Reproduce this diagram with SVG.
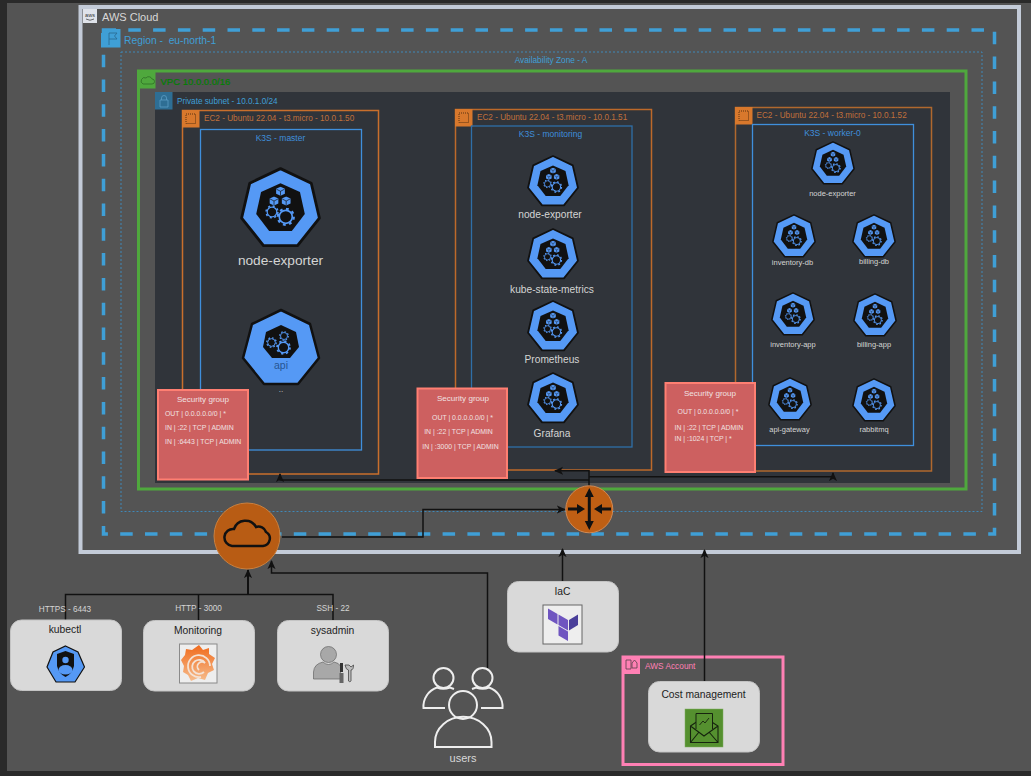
<svg xmlns="http://www.w3.org/2000/svg" width="1031" height="776" viewBox="0 0 1031 776">
<style>
text{font-family:"Liberation Sans",Arial,sans-serif}
.c{fill:none;stroke:#111;stroke-width:1.5}
.ec2{fill:none;stroke:#c96f2c;stroke-width:1.5}
.k3s{fill:none;stroke:#3f8fdc;stroke-width:1.3}
.ech{fill:#d8782c}
.ect{fill:#c0703a;font-size:8.2px}
.k3t{fill:#3f8fdc;font-size:8.5px;text-anchor:middle}
.sg{fill:#cd6060;stroke:#ff7f72;stroke-width:2}
.sgt{fill:#f0e0e0;font-size:8.1px;text-anchor:middle}
.sgl{fill:#f0e0e0;font-size:6.9px}
.sgm{fill:#f0e0e0;font-size:6.9px;text-anchor:middle}
.lbl{fill:#d4d4d4;text-anchor:middle}
.card{fill:#d9d9d9;stroke:#c4c4c4}
.cardt{fill:#222;font-size:10.3px;text-anchor:middle}
.port{fill:#d4d4d4;font-size:8.2px;text-anchor:middle}
.user{fill:none;stroke:#eeeeee;stroke-width:2}
</style>
<defs>
<linearGradient id="graf" x1="0" y1="0" x2="0" y2="1"><stop offset="0" stop-color="#f06a1c"/><stop offset="1" stop-color="#f6bc8c"/></linearGradient>
<marker id="ah" viewBox="0 0 10 10" refX="9" refY="5" markerWidth="9" markerHeight="9" markerUnits="userSpaceOnUse" orient="auto"><path d="M0,0.5 L10,5 L0,9.5 L2.5,5 z" fill="#111"/></marker>
<symbol id="cube" viewBox="0 0 10 10"><path d="M5,0.3 L9.5,2.5 V7.5 L5,9.7 L0.5,7.5 V2.5 z" fill="#5599f5"/><path d="M0.8,2.8 L5,5 L9.2,2.8 M5,5 V9.5" stroke="#111" stroke-width="0.7" fill="none"/></symbol>
<symbol id="gear" viewBox="0 0 20 20"><circle cx="10" cy="10" r="7" fill="none" stroke="#5599f5" stroke-width="1.8"/><circle cx="10" cy="10" r="8.6" fill="none" stroke="#5599f5" stroke-width="2.4" stroke-dasharray="3 3.75"/></symbol>
<symbol id="k8s" viewBox="0 0 100 100">
<path d="M50,2 L88,20 L98,63 L71,97 L29,97 L2,63 L12,20 z" fill="#5599f5" stroke="#111" stroke-width="3.5" stroke-linejoin="round"/>
<path d="M50,20 L74,31 L80,58 L64,79 L36,79 L20,58 L26,31 z" fill="#111"/>
<use href="#cube" x="44" y="24" width="12" height="12"/>
<use href="#cube" x="36" y="36" width="12" height="12"/>
<use href="#cube" x="51" y="36" width="12" height="12"/>
<use href="#gear" x="31" y="47" width="17" height="17"/>
<use href="#gear" x="45" y="50" width="23" height="23"/>
</symbol>
</defs>
<rect width="1031" height="776" fill="#2a2a2a"/>
<rect x="7" y="3" width="1024" height="768" fill="#545454"/>

<g id="aws-cloud">
<rect x="80.500" y="7" width="938.500" height="545" fill="#545454" stroke="#c3cbd8" stroke-width="4"/>
<rect x="83" y="9" width="14" height="14" fill="#dfe3ea"/>
<text x="90" y="17" font-size="5.500" fill="#333" text-anchor="middle">aws</text>
<path d="M86,19 Q90,21.500 94,19" fill="none" stroke="#333" stroke-width="0.700"/>
<text x="102" y="21" font-size="11" fill="#d8d8d8">AWS Cloud</text>
</g>
<g id="region">
<rect x="103.500" y="30" width="891" height="504" fill="none" stroke="#3f9fd6" stroke-width="3.500" stroke-dasharray="12.500 12.300"/>
<path d="M104,29 H120.500 V47.500 H101 V33 H104 z" fill="#3f9fd6"/>
<path d="M109,45 V33 H117 L114.500,36 L117,39 H109" fill="none" stroke="#2a6d96" stroke-width="0.900"/>
<text x="124" y="44" font-size="10.300" fill="#3f9fd6" xml:space="preserve">Region -  eu-north-1</text>
</g>
<g id="az">
<rect x="121" y="52" width="861" height="459.500" fill="none" stroke="#3f88b8" stroke-width="1" stroke-dasharray="2 2"/>
<text x="551" y="63" font-size="8.300" fill="#3f9fd6" text-anchor="middle">Availability Zone - A</text>
</g>
<g id="vpc">
<rect x="138.500" y="71" width="827.500" height="418" fill="#545454" stroke="#4fa83d" stroke-width="3"/>
<rect x="138" y="71" width="17.500" height="17.500" fill="#4fa83d"/>
<path d="M143,84 h9 a2.500,2.500 0 0 0 0,-5 a3.500,3.500 0 0 0 -6,-1 a3,3 0 0 0 -3,6 z" fill="none" stroke="#2f6f26" stroke-width="0.800"/>
<text x="160.500" y="85" font-size="9.500" fill="#008000" stroke="#008000" stroke-width="0.200">VPC 10.0.0.0/16</text>
</g>
<g id="subnet">
<rect x="155" y="92" width="795" height="391" fill="#30343a"/>
<rect x="155" y="92" width="17.500" height="17.500" fill="#2e6e94"/>
<path d="M160,100 h8 v7 h-8 z M161.500,100 v-2 a2.500,2.500 0 0 1 5,0 v2" fill="none" stroke="#5a9cc4" stroke-width="0.800"/>
<text x="177" y="104" font-size="8.200" fill="#3f9fd6">Private subnet - 10.0.1.0/24</text>
</g>

<g id="ec2-master">
<rect class="ec2" x="182.500" y="110.500" width="196" height="363.500"/>
<rect class="ech" x="182" y="110" width="17.500" height="17.500"/>
<rect x="186" y="114" width="9.500" height="9.500" fill="none" stroke="#5a3210" stroke-dasharray="1 1"/>
<text class="ect" x="204" y="121">EC2 - Ubuntu 22.04 - t3.micro - 10.0.1.50</text>
</g>
<g id="k3s-master">
<rect class="k3s" x="200.500" y="129.500" width="161" height="320.500"/>
<text class="k3t" x="280.500" y="141">K3S - master</text>
</g>
<g id="master-node-exporter">
<use href="#k8s" x="240" y="167" width="81" height="81"/>
<text class="lbl" x="280.500" y="265" font-size="13.700">node-exporter</text>
</g>
<g id="master-api">
<path d="M281,310 L310,324 L319,358 L298,384 L264,384 L243,358 L252,324 z" fill="#5599f5" stroke="#111" stroke-width="2.500" stroke-linejoin="round"/>
<path d="M281,325 L296,332 L299,347 L290,358 L272,358 L263,347 L266,332 z" fill="#111"/>
<use href="#gear" x="266" y="337" width="11" height="11"/>
<use href="#gear" x="279" y="331" width="10" height="10"/>
<use href="#gear" x="276" y="340" width="15" height="15"/>
<text x="281" y="369" font-size="10.500" fill="#265592" text-anchor="middle">api</text>
<text class="lbl" x="281" y="392" font-size="8">..</text>
</g>

<g id="ec2-monitoring">
<rect class="ec2" x="455.500" y="109.500" width="196" height="360.500" style="stroke:#bd692a"/>
<rect class="ech" x="455" y="109" width="17.500" height="17.500"/>
<rect x="459" y="113" width="9.500" height="9.500" fill="none" stroke="#5a3210" stroke-dasharray="1 1"/>
<text class="ect" x="477" y="120">EC2 - Ubuntu 22.04 - t3.micro - 10.0.1.51</text>
</g>
<g id="k3s-monitoring">
<rect class="k3s" x="471.500" y="126" width="160.500" height="321" style="stroke:#2f6fa8"/>
<text class="k3t" x="550.500" y="137">K3S - monitoring</text>
</g>
<g id="mon-node-exporter"><use href="#k8s" x="527" y="155" width="52" height="52"/><text class="lbl" x="550" y="218" font-size="10.200">node-exporter</text></g>
<g id="mon-ksm"><use href="#k8s" x="527" y="228" width="52" height="52"/><text class="lbl" x="552" y="293" font-size="10.200">kube-state-metrics</text></g>
<g id="mon-prometheus"><use href="#k8s" x="527" y="300" width="52" height="52"/><text class="lbl" x="552" y="363" font-size="10.200">Prometheus</text></g>
<g id="mon-grafana"><use href="#k8s" x="527" y="372" width="52" height="52"/><text class="lbl" x="552" y="437" font-size="10.200">Grafana</text></g>

<g id="ec2-worker">
<rect class="ec2" x="735.500" y="107.500" width="196" height="363.500" style="stroke:#b0682e"/>
<rect class="ech" x="735" y="107" width="17.500" height="17.500"/>
<rect x="739" y="111" width="9.500" height="9.500" fill="none" stroke="#5a3210" stroke-dasharray="1 1"/>
<text class="ect" x="756.500" y="118">EC2 - Ubuntu 22.04 - t3.micro - 10.0.1.52</text>
</g>
<g id="k3s-worker">
<rect class="k3s" x="752.500" y="124.500" width="161" height="321"/>
<text class="k3t" x="832.500" y="136">K3S - worker-0</text>
</g>
<g id="w-node-exporter"><use href="#k8s" x="811" y="141" width="44" height="44"/><text class="lbl" x="832.500" y="196" font-size="7.500">node-exporter</text></g>
<g id="w-inventory-db"><use href="#k8s" x="772" y="214" width="44" height="44"/><text class="lbl" x="792.500" y="265" font-size="7.500">inventory-db</text></g>
<g id="w-billing-db"><use href="#k8s" x="852" y="214" width="44" height="44"/><text class="lbl" x="874" y="264" font-size="7.500">billing-db</text></g>
<g id="w-inventory-app"><use href="#k8s" x="771" y="292" width="44" height="44"/><text class="lbl" x="793" y="347" font-size="7.500">inventory-app</text></g>
<g id="w-billing-app"><use href="#k8s" x="853" y="293" width="44" height="44"/><text class="lbl" x="874" y="347" font-size="7.500">billing-app</text></g>
<g id="w-api-gateway"><use href="#k8s" x="768" y="377" width="44" height="44"/><text class="lbl" x="789.500" y="432" font-size="7.500">api-gateway</text></g>
<g id="w-rabbitmq"><use href="#k8s" x="852" y="378" width="44" height="44"/><text class="lbl" x="874" y="432" font-size="7.500">rabbitmq</text></g>

<g id="sg-master">
<rect class="sg" x="158" y="390" width="90" height="89.500"/>
<text class="sgt" x="203" y="402">Security group</text>
<text class="sgl" x="165" y="416">OUT | 0.0.0.0.0/0 | *</text>
<text class="sgl" x="165" y="430">IN | :22 | TCP | ADMIN</text>
<text class="sgl" x="165" y="444">IN | :6443 | TCP | ADMIN</text>
</g>
<g id="sg-monitoring">
<rect class="sg" x="417.500" y="388.500" width="89.500" height="89.500"/>
<text class="sgt" x="463" y="401">Security group</text>
<text class="sgm" x="462.500" y="420">OUT | 0.0.0.0.0/0 | *</text>
<text class="sgm" x="458.500" y="434">IN | :22 | TCP | ADMIN</text>
<text class="sgm" x="460.500" y="449">IN | :3000 | TCP | ADMIN</text>
</g>
<g id="sg-worker">
<rect class="sg" x="665.500" y="383" width="89.500" height="89"/>
<text class="sgt" x="710" y="395.500">Security group</text>
<text class="sgm" x="708" y="413.500">OUT | 0.0.0.0.0/0 | *</text>
<text class="sgl" x="674.500" y="429.500">IN | :22 | TCP | ADMIN</text>
<text class="sgl" x="674.500" y="440.500">IN | :1024 | TCP | *</text>
</g>

<g id="aws-account">
<rect x="623" y="657" width="160" height="107.500" fill="none" stroke="#ff80b4" stroke-width="3"/>
<rect x="622" y="656" width="18" height="18" fill="#ff80b4"/>
<path d="M626,660 h5 v9 h-5 z M632,668 h5 v-5 l-2.500,-3 l-2.500,3 z" fill="none" stroke="#55404a" stroke-width="0.800"/>
<text x="645" y="669" font-size="8.300" fill="#ff80b4">AWS Account</text>
</g>

<g id="connectors">
<path class="c" d="M282,537 H423 V509.500 H565" marker-end="url(#ah)"/>
<path class="c" d="M589,488 V470.700 H555" marker-end="url(#ah)"/>
<path class="c" d="M589,480 H280 V474" marker-end="url(#ah)"/>
<path class="c" d="M589,476.700 H833 V473" marker-end="url(#ah)"/>
<path class="c" d="M65.500,620 V594.500 H248"/>
<path class="c" d="M198.500,620 V594.500"/>
<path class="c" d="M333,620 V594.500 H248"/>
<path class="c" d="M248,594.500 V570" style="stroke-width:2" marker-end="url(#ah)"/>
<path class="c" d="M487.500,669 V573 H271.500 V561" marker-end="url(#ah)"/>
<path class="c" d="M562.500,581 V549" marker-end="url(#ah)"/>
<path class="c" d="M704.500,681 V550" marker-end="url(#ah)"/>
</g>

<g id="internet-gateway">
<circle cx="247" cy="536" r="33" fill="#b85c14" stroke="#c9803f" stroke-width="1"/>
<path d="M232,546 H263 A7.500,7.500 0 0 0 266,532 A8,8 0 0 0 256,527 A12,12 0 0 0 234,529 A8.500,8.500 0 0 0 232,546 z" fill="none" stroke="#111" stroke-width="2.500"/>
</g>
<g id="router">
<circle cx="589.300" cy="509.300" r="23.500" fill="#bf5f14" stroke="#d08a55" stroke-width="1"/>
<path d="M589.300,495 V523" stroke="#111" stroke-width="3"/>
<path d="M589.300,488 l-4.500,9 h9 z M589.300,530 l-4.500,-9 h9 z M585,509 l-8,-5 v10 z M594,509 l8,-5 v10 z" fill="#111"/>
<path d="M568,509 H578 M601,509 H611" stroke="#111" stroke-width="3"/>
</g>

<g id="kubectl">
<rect class="card" x="10.500" y="620" width="111" height="70.500" rx="11"/>
<text class="port" x="65" y="612">HTTPS - 6443</text>
<text class="cardt" x="65" y="633">kubectl</text>
<path d="M65.500,646 L78,652 L84.500,667 L75,682 L56,682 L47,667 L53,652 z" fill="#5599f5" stroke="#111" stroke-width="1.200"/>
<path d="M57,654 L65.500,651 L74,654 V666 Q72,674 65.500,677 Q59,674 57,666 z" fill="#111"/>
<circle cx="65.500" cy="660" r="3.200" fill="#5599f5"/>
<path d="M58.500,670 a7,5 0 0 1 14,0 a7,4.500 0 0 1 -14,0 z" fill="#5599f5"/>
</g>
<g id="monitoring">
<rect class="card" x="143.500" y="620.500" width="111" height="70.500" rx="11"/>
<text class="port" x="198.500" y="611">HTTP - 3000</text>
<text class="cardt" x="198" y="634">Monitoring</text>
<rect x="179.500" y="644" width="37.500" height="39" fill="#eeeeee" stroke="#8a8a8a"/>
<path d="M199,645 L203,650 L209,648 L209,654 L215,658 L212,664 L214,670 L208,673 L205,680 L198,678 L191,681 L188,675 L183,672 L184,666 L181,660 L185,655 L186,649 L192,650 z" fill="url(#graf)"/>
<path d="M210,666 A11,11 0 1 0 201,677 M204,672 A7,7 0 1 1 205,663 A3.500,3.500 0 1 0 199,670" fill="none" stroke="#f4e2d4" stroke-width="1.800"/>
</g>
<g id="sysadmin">
<rect class="card" x="277.500" y="620.500" width="111" height="70.500" rx="11"/>
<text class="port" x="333" y="611">SSH - 22</text>
<text class="cardt" x="332.500" y="634">sysadmin</text>
<circle cx="328.500" cy="654.500" r="8" fill="#a8a8a8" stroke="#666" stroke-width="0.700"/>
<path d="M313.500,679 V672 Q314,664 323,662 Q328.500,667 334,662 Q339,663 340.500,666 V679 z" fill="#a8a8a8" stroke="#666" stroke-width="0.700"/>
<rect x="340" y="663" width="3" height="9" fill="#333"/><rect x="339.500" y="673" width="4" height="10" fill="#666"/>
<path d="M345,665 Q346,670 348.500,670 V681 A1.500,1.500 0 0 0 351,681 V670 Q353.500,670 353.500,665 L351,667 L349,665 z" fill="#bbb" stroke="#444" stroke-width="0.800"/>
</g>
<g id="iac">
<rect class="card" x="507.500" y="581.500" width="111" height="70.500" rx="11"/>
<text class="cardt" x="562.500" y="595">IaC</text>
<rect x="543" y="605" width="39" height="39" fill="#eeeeee" stroke="#666" stroke-width="1"/>
<path d="M548,608.500 L557.500,614 V624.500 L548,619 z M558.500,614.500 L568,620 V630.500 L558.500,625 z M558.500,626 L568,631.500 V641 L558.500,635.500 z" fill="#6f55c0"/>
<path d="M569,620 L578,614.500 V625 L569,630.500 z" fill="#4a3f9a"/>
</g>
<g id="cost-management">
<rect class="card" x="648.500" y="681.500" width="111" height="70.500" rx="11"/>
<text class="cardt" x="703.500" y="698">Cost management</text>
<rect x="685" y="709" width="38" height="38" fill="#55902f" stroke="#7fae60" stroke-width="0.500"/>
<path d="M690.500,726 L704,717 L718,726 V742.500 H690.500 z M690.500,726 L704,736 L718,726 M690.500,742.500 L699,732 M718,742.500 L709,732" fill="none" stroke="#16240e" stroke-width="1.100"/>
<path d="M696,729 V713.500 H712.500 V729" fill="#55902f" stroke="#16240e" stroke-width="1"/>
<path d="M699.500,725 L703,721 L705,723 L709,718" fill="none" stroke="#16240e" stroke-width="0.900"/>
</g>
<g id="users">
<circle class="user" cx="443.500" cy="678" r="10"/>
<circle class="user" cx="482.500" cy="678" r="10"/>
<path class="user" d="M445,708 H423.500 A20,20 0 0 1 437,687.500 Q443,690 450,687.500 L454,689"/>
<path class="user" d="M481,708 H502.500 A20,20 0 0 0 489,687.500 Q483,690 476,687.500 L472,689"/>
<circle class="user" cx="463" cy="705" r="14"/>
<path class="user" d="M435,747 V742 A28,25 0 0 1 491.500,742 V747 z"/>
<text x="463" y="762" font-size="11" fill="#d8d8d8" text-anchor="middle">users</text>
</g>
</svg>
